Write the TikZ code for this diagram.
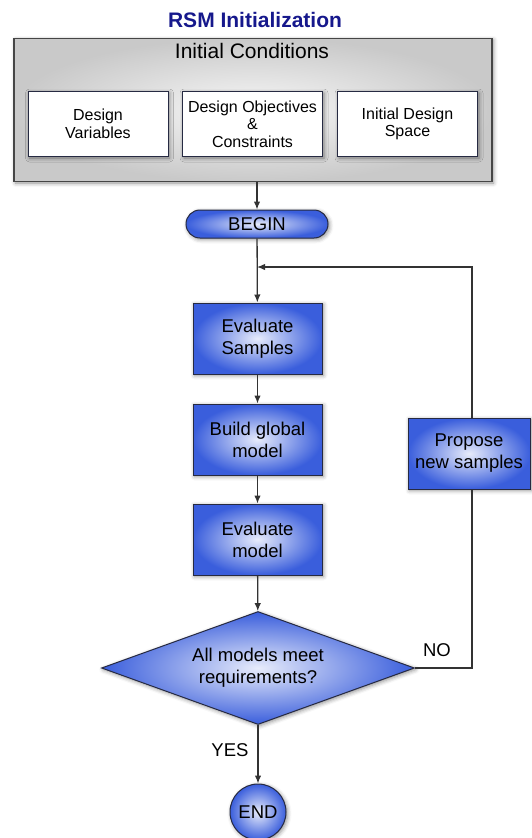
\documentclass[tikz,border=0pt]{standalone}
\usepackage{fontspec}
\setmainfont{Liberation Sans}
\usetikzlibrary{shapes.geometric,shadows.blur,arrows.meta}
\definecolor{rsmblue}{RGB}{58,94,220}
\definecolor{rsmnavy}{RGB}{22,24,140}
\definecolor{rsmedge}{RGB}{38,42,66}
\begin{document}
\begin{tikzpicture}[x=1pt,y=-1pt,
  every node/.style={font=\fontsize{18.5}{22}\selectfont, align=center, inner sep=0pt},
  soft/.style={blur shadow={shadow xshift=1.5pt, shadow yshift=-1.5pt, shadow blur radius=4pt, shadow opacity=45}},
  outerbox/.style={draw=gray!55!black, line width=1.2pt, inner color=gray!6, outer color=gray!42, soft},
  condbox/.style={draw=rsmedge, line width=1pt, fill=white, soft,
    font=\fontsize{16}{17.5}\selectfont, minimum width=140, minimum height=65},
  bluefill/.style={draw=rsmedge, line width=1pt, inner color=rsmblue!12!white, outer color=rsmblue, soft},
  bluebox/.style={bluefill, minimum width=129, minimum height=71},
  arr/.style={-{Latex[length=8pt,width=6.5pt]}},
  link/.style={draw=black!80, line width=1.3pt}]
  \useasboundingbox (0,0) rectangle (532,838);
  % initialisation block
  \node[font=\fontsize{21}{24}\selectfont\bfseries, text=rsmnavy] (title) at (255,20) {RSM Initialization};
  \node[outerbox, minimum width=478, minimum height=143] (init) at (253,110) {};
  \node[font=\fontsize{21}{24}\selectfont] (cond) at (252,51) {Initial Conditions};
  \node[condbox] (vars) at (98,124) {Design\\Variables};
  \node[condbox] (objs) at (252.5,124) {Design Objectives\\\&\\Constraints};
  \node[condbox] (space) at (407.5,124) {Initial Design\\Space};
  % main loop
  \node[bluefill, rounded corners=14pt, minimum width=142, minimum height=28] (begin) at (257,224) {BEGIN};
  \coordinate (join) at (257,267);
  \node[bluebox] (evs) at (257.5,338.5) {Evaluate\\Samples};
  \node[bluebox] (build) at (257.5,439.5) {Build global\\model};
  \node[bluebox] (evm) at (257.5,539.5) {Evaluate\\model};
  \node[bluebox, minimum width=122] (prop) at (469,453.5) {Propose\\new samples};
  \node[diamond, bluefill, aspect=2.77, minimum width=313, minimum height=113] (check) at (258,668) {All models meet\\requirements?};
  \node[circle, bluefill, minimum size=56] (end) at (258,812) {END};
  \node (no) at (437,650) {NO};
  \node (yes) at (230,750) {YES};
  % connectors
  \draw[link, arr] (init.south -| begin) -- (begin);
  \draw[link, arr] (begin) -- (evs);
  \draw[link, arr] (evs) -- (build);
  \draw[link, arr] (build) -- (evm);
  \draw[link, arr] (evm) -- (check);
  \draw[link, arr] (check) -- (end);
  \draw[link] (check.east) -| (prop.south -| 472,0);
  \draw[link, arr] (prop.north -| 472,0) |- (join);
\end{tikzpicture}
\end{document}
